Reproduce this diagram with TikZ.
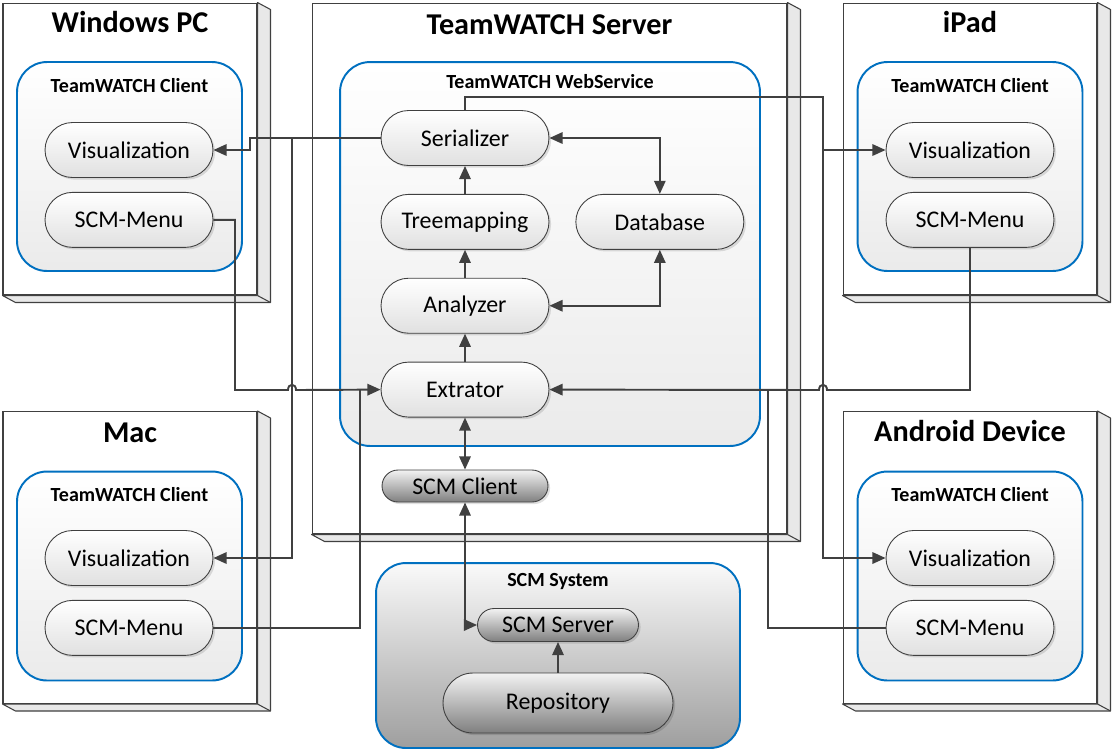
\documentclass[tikz,border=0pt]{standalone}
\usepackage{fontspec}
\setmainfont{Carlito}
\usetikzlibrary{positioning,calc,arrows.meta,shapes.misc,shadows}
\definecolor{linegray}{HTML}{404040}
\definecolor{sidegray}{HTML}{E8E8E8}
\definecolor{clientblue}{HTML}{0070C0}
\tikzset{
	devbox/.style = {draw=linegray, fill=white, line width=0.6pt, minimum width=5.08cm, minimum height=5.84cm, inner sep=0},
	sideface/.style = {draw=linegray, fill=sidegray, line width=0.6pt, line join=round},
	devtitle/.style = {font=\fontsize{17.2}{19}\selectfont\bfseries, inner sep=0, anchor=base},
	container/.style = {draw=clientblue, line width=1.1pt, rounded corners=0.6cm, top color=white, bottom color=black!8, minimum width=4.5cm, minimum height=4.18cm, inner sep=0},
	subtitle/.style = {font=\fontsize{11.4}{13}\selectfont\bfseries, inner sep=0, anchor=base},
	pill/.style = {rounded rectangle, draw=linegray, line width=0.5pt, top color=white, bottom color=black!12, minimum width=3.36cm, minimum height=1.1cm, inner sep=0, font=\fontsize{13.6}{15}\selectfont, drop shadow={shadow xshift=1.2pt, shadow yshift=-1.2pt, fill=black, opacity=0.12}},
	scmpill/.style = {pill, top color=black!5, bottom color=black!50},
	conn/.style = {draw=linegray, line width=1.1pt},
	arr/.style = {conn, -{Triangle[length=7.5pt,width=6.5pt]}},
	dbl/.style = {conn, {Triangle[length=7.5pt,width=6.5pt]}-{Triangle[length=7.5pt,width=6.5pt]}}
}
\begin{document}
\begin{tikzpicture}[x=0.02cm, y=-0.02cm]
	\useasboundingbox [fill=white] (0,0) rectangle (1112,752);
	% the five machines
	\node [devbox] (win) at (130,149) {};
	\node [devbox] (ipad) at (970,149) {};
	\node [devbox] (mac) at (130,557.5) {};
	\node [devbox] (andr) at (970,557.5) {};
	\node [devbox, minimum width=9.5cm, minimum height=10.62cm] (srv) at (549.5,268.5) {};
	\foreach \b in {win,ipad,mac,andr,srv}{
		\filldraw [sideface] (\b.north east) -- ++(13,7) |- ([shift={(13,7)}]\b.south west) -- (\b.south west) -- (\b.south east) -- cycle;
		\draw [sideface] (\b.south east) -- ++(13,7);
	}
	\node [devtitle] (wintitle) at ([yshift=-0.6cm]win.north) {Windows PC};
	\node [devtitle] (ipadtitle) at ([yshift=-0.6cm]ipad.north) {iPad};
	\node [devtitle] (mactitle) at ([yshift=-0.62cm]mac.north) {Mac};
	\node [devtitle] (andrtitle) at ([yshift=-0.6cm]andr.north) {Android Device};
	\node [devtitle] (srvtitle) at ([yshift=-0.64cm]srv.north) {TeamWATCH Server};
	
	% clients
	\node [container] (winc) at (129.5,166.5) {};
	\node [container] (ipadc) at (970,166.5) {};
	\node [container] (macc) at (129.5,576) {};
	\node [container] (andrc) at (970,576) {};
	\foreach \c in {winc,ipadc,macc,andrc}{
		\node [subtitle] (\c title) at ([yshift=-0.62cm]\c.north) {TeamWATCH Client};
	}
	\node [pill] (winvis) at (129,150) {Visualization};
	\node [pill, below=0.28cm of winvis] (winmenu) {SCM-Menu};
	\node [pill] (ipadvis) at (970,150) {Visualization};
	\node [pill, below=0.28cm of ipadvis] (ipadmenu) {SCM-Menu};
	\node [pill] (macvis) at (129,558) {Visualization};
	\node [pill, below=0.28cm of macvis] (macmenu) {SCM-Menu};
	\node [pill] (andrvis) at (970,558) {Visualization};
	\node [pill, below=0.28cm of andrvis] (andrmenu) {SCM-Menu};
	
	% web service
	\node [container, minimum width=8.4cm, minimum height=7.68cm] (websvc) at (550,254) {};
	\node [subtitle] (websvctitle) at ([yshift=-0.54cm]websvc.north) {TeamWATCH WebService};
	\node [pill] (ser) at (465,138) {Serializer};
	\node [pill, below=0.56cm of ser] (tree) {Treemapping};
	\node [pill, below=0.56cm of tree] (ana) {Analyzer};
	\node [pill, below=0.56cm of ana] (ext) {Extrator};
	\node [pill, right=0.52cm of tree] (db) {Database};
	\node [scmpill, minimum width=3.32cm, minimum height=0.64cm] (scmc) at (465,486) {SCM Client};
	
	% scm system
	\node [container, minimum width=7.28cm, minimum height=3.7cm, top color=black!2, bottom color=black!38] (scmsys) at (558,655.5) {};
	\node [subtitle] (scmsystitle) at ([yshift=-0.48cm]scmsys.north) {SCM System};
	\node [scmpill, minimum width=3.22cm, minimum height=0.66cm] (scms) at (558,625) {SCM Server};
	\node [scmpill, minimum width=4.6cm, minimum height=1.2cm] (repo) at (558,703) {Repository};
	
	% connectors
	\coordinate (jl) at (292,138);
	\coordinate (jr) at (823,97);
	\draw [arr] (ser.west) -- (jl) -| (250,150) -- (winvis.east);
	\draw [arr] (jl) |- (macvis.east);
	\draw [arr] (ser.north) |- (jr) |- (andrvis.west);
	\draw [arr] (jr |- ipadvis.west) -- (ipadvis.west);
	\draw [arr] (winmenu.east) -| (235,390) -- (288,390) .. controls (288,383) and (296,383) .. (296,390) -- (ext.west);
	\draw [conn] (macmenu.east) -| (360,390);
	\draw [arr] (ipadmenu.south) |- (827,390) .. controls (827,383) and (819,383) .. (819,390) -- (ext.east);
	\draw [conn] (andrmenu.west) -| (768,390);
	\draw [dbl] (ser.east) -| (db.north);
	\draw [dbl] (ana.east) -| (db.south);
	\draw [arr] (tree.north) -- (ser.south);
	\draw [arr] (ana.north) -- (tree.south);
	\draw [arr] (ext.north) -- (ana.south);
	\draw [dbl] (ext.south) -- (scmc.north);
	\draw [dbl] (scmc.south) |- (scms.west);
	\draw [arr] (repo.north) -- (scms.south);
\end{tikzpicture}
\end{document}
